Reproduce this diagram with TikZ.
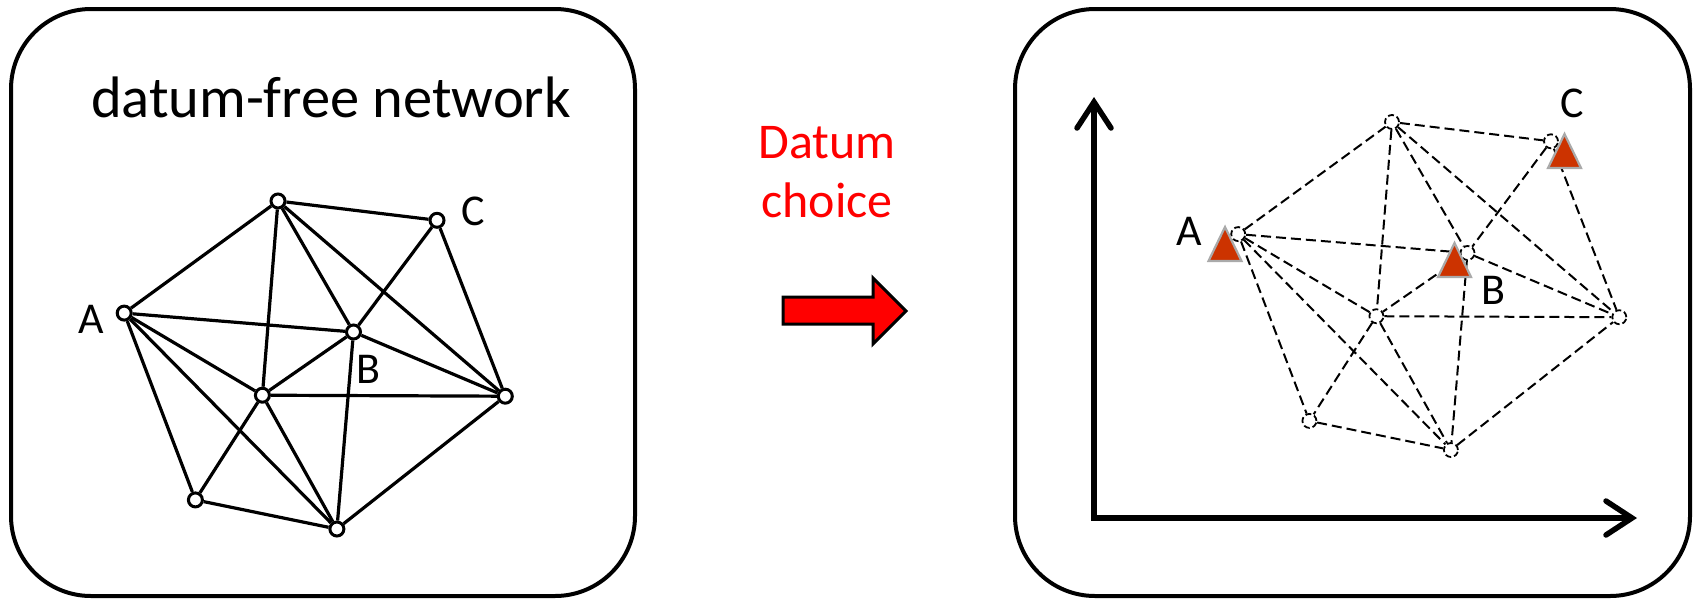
\documentclass[tikz,border=0pt]{standalone}
\usepackage{fontspec}
\setmainfont{Carlito}
\usetikzlibrary{arrows.meta}
\definecolor{choicered}{RGB}{255,0,0}
\definecolor{markfill}{RGB}{204,51,0}
\definecolor{markrim}{RGB}{170,170,170}
\begin{document}
\begin{tikzpicture}[x=1pt,y=-1pt,
  panel/.style={draw, line width=4pt, rounded corners=80pt},
  station/.style={circle, draw, fill=white, line width=3pt, minimum size=14pt, inner sep=0pt},
  dstation/.style={circle, draw, fill=white, line width=1.8pt, minimum size=14pt, inner sep=0pt, dash pattern=on 6pt off 3pt},
  obs/.style={line width=3.2pt},
  dobs/.style={line width=2pt, dash pattern=on 10pt off 5pt},
  lab/.style={anchor=base, font=\fontsize{44}{44}\selectfont, inner sep=0pt},
  fixmark/.style={fill=markfill, draw=markrim, line width=2.2pt, line join=miter},
  axis/.style={line width=5.5pt, line cap=round,
    {Straight Barb[length=26pt,width=34pt,line cap=round]}-{Straight Barb[length=26pt,width=34pt,line cap=round]}}
]
\useasboundingbox (0,0) rectangle (1693,600);

% panels
\draw[panel] (11,9) rectangle (635,596);
\draw[panel] (1015,9) rectangle (1690,596);

% title
\node[anchor=base, font=\fontsize{58.5}{58.5}\selectfont, inner sep=0pt] (title) at (331,117) {datum-free network};

% ---------- free network ----------
\node[station] (T) at (278,201) {};
\node[station] (C) at (437,220.3) {};
\node[station] (A) at (124.2,313.1) {};
\node[station] (B) at (353.5,332) {};
\node[station] (M) at (262.4,395.2) {};
\node[station] (R) at (505.3,396.2) {};
\node[station] (L) at (195.4,499.9) {};
\node[station] (Bt) at (336.9,529.0) {};

\foreach \u/\v in {A/T,T/C,T/M,T/B,T/R,C/B,C/R,A/B,A/M,A/L,A/Bt,B/M,B/R,B/Bt,M/R,M/L,M/Bt,L/Bt,Bt/R}
  \draw[obs] (\u) -- (\v);

\node[lab] (la) at (91,333) {A};
\node[lab] (lb) at (368.5,383) {B};
\node[lab] (lc) at (473,225) {C};

% ---------- datum choice ----------
\node[anchor=base, font=\fontsize{50}{50}\selectfont, text=choicered, inner sep=0pt] (d1) at (827,158) {Datum};
\node[anchor=base, font=\fontsize{50}{50}\selectfont, text=choicered, inner sep=0pt] (d2) at (827,217) {choice};
\draw[line width=3pt, fill=choicered, line join=miter]
  (783,297) -- (873,297) -- (873,278) -- (906,311) -- (873,344) -- (873,324) -- (783,324) -- cycle;

% ---------- network in a datum ----------
\coordinate (org) at (1094,518);
\coordinate (ytip) at (1094,97);
\coordinate (xtip) at (1637,518);
\draw[axis] (ytip) -- (org) -- (xtip);

\begin{scope}[shift={(1114,-79)}]
\node[dstation] (T2) at (278,201) {};
\node[dstation] (C2) at (437,220.3) {};
\node[dstation] (A2) at (124.2,313.1) {};
\node[dstation] (B2) at (353.5,332) {};
\node[dstation] (M2) at (262.4,395.2) {};
\node[dstation] (R2) at (505.3,396.2) {};
\node[dstation] (L2) at (195.4,499.9) {};
\node[dstation] (Bt2) at (336.9,529.0) {};
\end{scope}

\foreach \u/\v in {A2/T2,T2/C2,T2/M2,T2/B2,T2/R2,C2/B2,C2/R2,A2/B2,A2/M2,A2/L2,A2/Bt2,B2/M2,B2/R2,B2/Bt2,M2/R2,M2/L2,M2/Bt2,L2/Bt2,Bt2/R2}
  \draw[dobs] (\u) -- (\v);

% fixed stations (base centre of each triangle)
\coordinate (fa) at (1225,261);
\coordinate (fb) at (1454.5,277);
\coordinate (fc) at (1564.5,168);
\foreach \f in {fa,fb,fc}
  \draw[fixmark] (\f) ++(-16.5,0) -- ++(33,0) -- ++(-16.5,-34) -- cycle;

\node[lab] (ra) at (1189,245) {A};
\node[lab] (rb) at (1493,304) {B};
\node[lab] (rc) at (1572,117) {C};
\end{tikzpicture}
\end{document}
